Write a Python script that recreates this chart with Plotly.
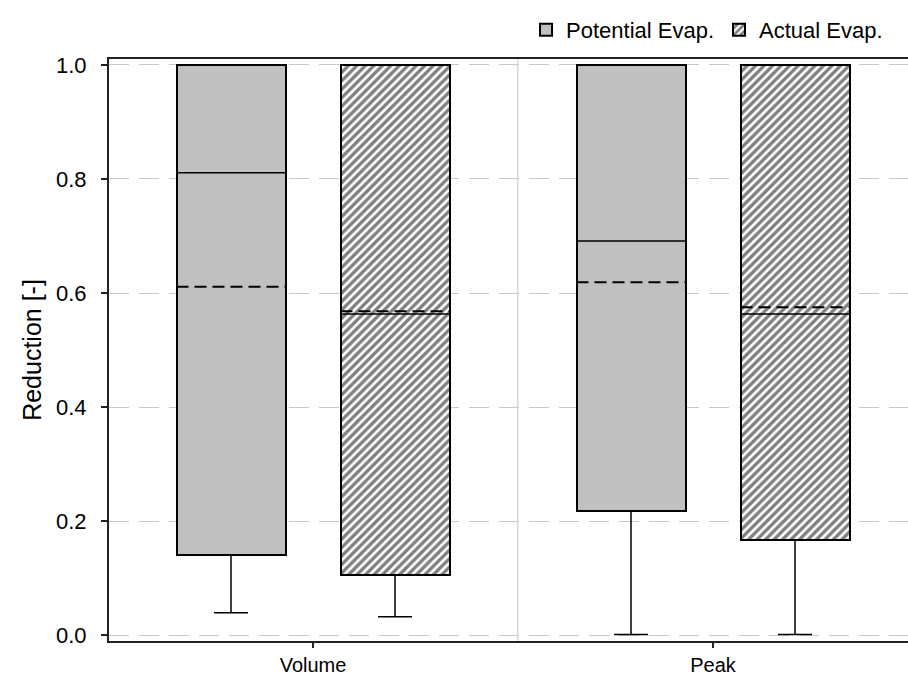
import plotly.graph_objects as go

# Box-plot statistics of the reduction ratio, per metric and evaporation model
metrics = ["Volume", "Peak"]
series = ["Potential Evap.", "Actual Evap."]

pot_q1 = [0.140, 0.218]
pot_median = [0.811, 0.691]
pot_mean = [0.611, 0.619]
pot_q3 = [1.0, 1.0]
pot_lower = [0.039, 0.001]

act_q1 = [0.105, 0.166]
act_median = [0.563, 0.563]
act_mean = [0.568, 0.575]
act_q3 = [1.0, 1.0]
act_lower = [0.032, 0.001]

y_ticks = [0.0, 0.2, 0.4, 0.6, 0.8, 1.0]

FONT = "Liberation Sans, Arial, sans-serif"
BOX_W = 0.2725
OFFSET = 0.205
CAP_W = 0.085

groups = [
    dict(name=series[0], q1=pot_q1, med=pot_median, mean=pot_mean, q3=pot_q3,
         low=pot_lower, shift=-OFFSET,
         pattern=dict(shape=""), color="#c0c0c0"),
    dict(name=series[1], q1=act_q1, med=act_median, mean=act_mean, q3=act_q3,
         low=act_lower, shift=OFFSET,
         pattern=dict(shape="/", fgcolor="black", bgcolor="white", size=6,
                      solidity=0.55, fillmode="overlay"),
         color="white"),
]

fig = go.Figure()

for g in groups:
    xs = [i + g["shift"] for i in range(len(metrics))]
    # box body from Q1 to Q3
    fig.add_trace(go.Bar(
        x=xs, base=g["q1"], y=[b - a for a, b in zip(g["q1"], g["q3"])],
        width=BOX_W, name=g["name"],
        marker=dict(color=g["color"], line=dict(color="black", width=2),
                    pattern=g["pattern"]),
        hoverinfo="skip",
    ))

for g in groups:
    xs = [i + g["shift"] for i in range(len(metrics))]
    wx, wy, mx, my, ax, ay = [], [], [], [], [], []
    for x, q1, lo, md, mn in zip(xs, g["q1"], g["low"], g["med"], g["mean"]):
        # lower whisker with cap
        wx += [x, x, None, x - CAP_W / 2, x + CAP_W / 2, None]
        wy += [q1, lo, None, lo, lo, None]
        # median
        mx += [x - BOX_W / 2, x + BOX_W / 2, None]
        my += [md, md, None]
        # mean
        ax += [x - BOX_W / 2, x + BOX_W / 2, None]
        ay += [mn, mn, None]
    fig.add_trace(go.Scatter(x=wx, y=wy, mode="lines", showlegend=False,
                             line=dict(color="black", width=1.5), hoverinfo="skip"))
    fig.add_trace(go.Scatter(x=mx, y=my, mode="lines", showlegend=False,
                             line=dict(color="black", width=1.5), hoverinfo="skip"))
    fig.add_trace(go.Scatter(x=ax, y=ay, mode="lines", showlegend=False,
                             line=dict(color="black", width=2, dash="12px,6px"),
                             hoverinfo="skip"))

# light separator between the two metric groups
fig.add_shape(type="line", xref="x", yref="paper", x0=0.512, x1=0.512, y0=0, y1=1,
              line=dict(color="#c8c8c8", width=1), layer="below")

fig.update_layout(
    width=908, height=675,
    margin=dict(l=109, r=0, t=59, b=34, autoexpand=False),
    paper_bgcolor="white", plot_bgcolor="white",
    barmode="overlay", bargap=0,
    font=dict(family=FONT, size=21, color="black"),
    legend=dict(orientation="h", x=0.975, xanchor="right", y=1.05, yanchor="middle",
                font=dict(size=22), bgcolor="rgba(0,0,0,0)", traceorder="normal",
                itemwidth=30),
    showlegend=True,
)

fig.update_xaxes(
    range=[-0.51, 1.4875], tickvals=list(range(len(metrics))), ticktext=metrics,
    showgrid=False, zeroline=False,
    showline=True, linecolor="#222", linewidth=2, mirror=True,
    ticks="outside", ticklen=5, tickwidth=1.5, tickcolor="#222",
    tickfont=dict(size=20), ticklabelstandoff=0,
)
fig.update_yaxes(
    range=[-0.0105, 1.0105], tickvals=y_ticks, ticktext=[f"{v:.1f}" for v in y_ticks],
    showgrid=True, gridcolor="#c8c8c8", gridwidth=1, griddash="20px,10px",
    zeroline=False,
    showline=True, linecolor="#222", linewidth=2, mirror=False,
    ticks="outside", ticklen=6, tickwidth=1.5, tickcolor="#222",
    tickfont=dict(size=22), ticklabelstandoff=10,
    title=dict(text="Reduction [-]", font=dict(size=25), standoff=7),
)

fig.write_html("out.html")
